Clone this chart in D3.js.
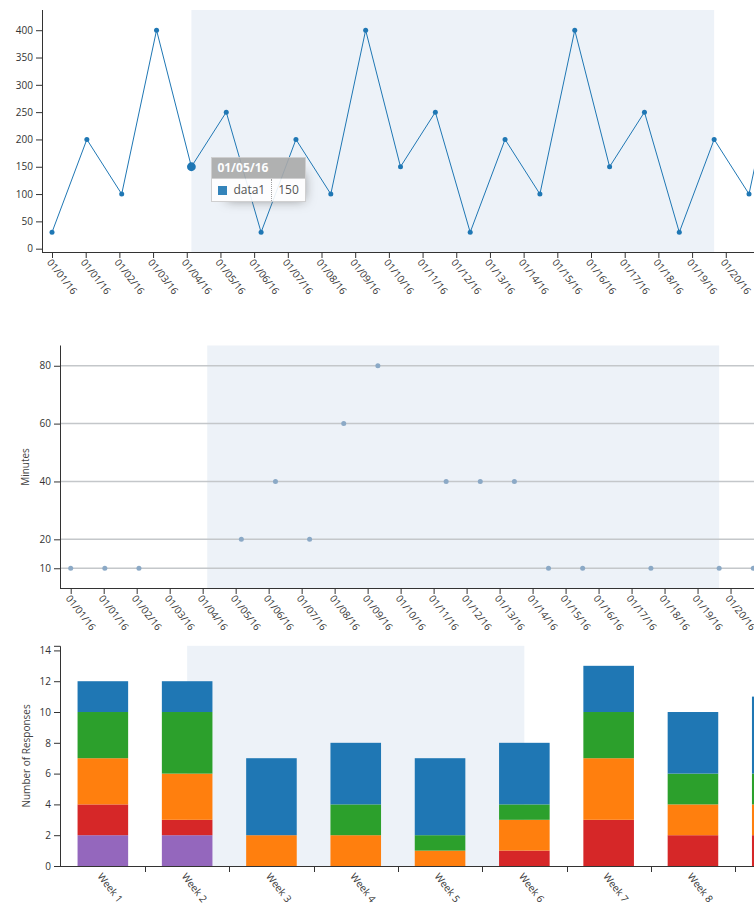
<!DOCTYPE html>
<html><head><meta charset="utf-8">
<script src="https://cdnjs.cloudflare.com/ajax/libs/d3/7.8.5/d3.min.js"></script>
<style>
html,body{margin:0;padding:0;background:#fff;overflow:hidden;}
body{width:754px;height:913px;position:relative;font-family:"Open Sans",sans-serif;}
svg{position:absolute;left:0;top:0;}
.tick text{font-size:10px;fill:#333;font-family:"Open Sans",sans-serif;}
.domain,.tick line{stroke:#333;}
.axis-label{font-size:10px;fill:#444;font-family:"Open Sans",sans-serif;}
#tooltip{position:absolute;}
.c3-tooltip{border-collapse:collapse;border-spacing:0;background:#fff;box-shadow:7px 7px 12px -9px #777;opacity:0.9;font-family:"Open Sans",sans-serif;}
.c3-tooltip tr{border:1px solid #ccc;}
.c3-tooltip th{background:#aaa;font-size:12px;line-height:16px;padding:2px 5px;text-align:left;color:#fff;font-weight:bold;}
.c3-tooltip td{font-size:12px;line-height:16px;padding:3px 6px;background:#fff;border-left:1px dotted #999;color:#444;}
.c3-tooltip td>span{display:inline-block;width:9px;height:9px;margin-right:6px;vertical-align:-1px;}
.c3-tooltip td.value{text-align:right;}
</style></head><body>
<svg id="chart" width="754" height="913"></svg>
<div id="tooltip"></div>
<script>
// ---------------- data ----------------
const lineDates = ["2016-01-01","2016-01-02","2016-01-03","2016-01-04","2016-01-05","2016-01-06","2016-01-07","2016-01-08","2016-01-09","2016-01-10","2016-01-11","2016-01-12","2016-01-13","2016-01-14","2016-01-15","2016-01-16","2016-01-17","2016-01-18","2016-01-19","2016-01-20","2016-01-21","2016-01-22"];
const lineValues = [30,200,100,400,150,250,30,200,100,400,150,250,30,200,100,400,150,250,30,200,100,400];
const lineDomain = ["2016-01-01","2016-01-30"];
const lineTickCount = 31;
const lineYTicks = [0,50,100,150,200,250,300,350,400];
const lineRegion = ["2016-01-05","2016-01-20"];
const lineSeriesName = "data1";
const tooltipIndex = 4;

const scatterDates = ["2016-01-01","2016-01-02","2016-01-03","2016-01-04","2016-01-05","2016-01-06","2016-01-07","2016-01-08","2016-01-09","2016-01-10","2016-01-11","2016-01-12","2016-01-13","2016-01-14","2016-01-15","2016-01-16","2016-01-17","2016-01-18","2016-01-19","2016-01-20","2016-01-21"];
const scatterValues = [10,10,10,null,null,20,40,20,60,80,null,40,40,40,10,10,null,10,null,10,10];
const scatterDomain = ["2016-01-01","2016-01-30"];
const scatterTickCount = 31;
const scatterYTicks = [10,20,40,60,80];
const scatterRegion = ["2016-01-05","2016-01-20"];
const scatterYLabel = "Minutes";

const weeks = ["Week 1","Week 2","Week 3","Week 4","Week 5","Week 6","Week 7","Week 8","Week 9"];
const seriesPurple = [2,2,0,0,0,0,0,0,0];
const seriesRed    = [2,1,0,0,0,1,3,2,2];
const seriesOrange = [3,3,2,2,1,2,4,2,2];
const seriesGreen  = [3,4,0,2,1,1,3,2,2];
const seriesBlue   = [2,2,5,4,5,4,3,4,5];
const barYTicks = [0,2,4,6,8,10,12,14];
const barRegion = ["Week 2","Week 6"];
const barYLabel = "Number of Responses";

// ---------------- helpers ----------------
const parse = d3.timeParse("%Y-%m-%d");
const fmt = d3.timeFormat("%m/%d/%y");
const svg = d3.select("#chart");
const REGION_FILL = "#edf2f8";
const ROT = 52;
function rotateLabels(sel){
  sel.selectAll(".tick text").attr("transform","rotate("+ROT+")").attr("text-anchor","start").attr("x",4.5).attr("y",4);
}
function evenTicks(domain,n){
  const t0=domain[0].getTime(), t1=domain[1].getTime();
  return d3.range(n).map(j=>new Date(t0+j*(t1-t0)/(n-1)));
}
function padDomain(vals){
  const mn=d3.min(vals), mx=d3.max(vals), p=(mx-mn)*0.1;
  return [mn-p,mx+p];
}

// ---------------- chart 1: line ----------------
(function(){
  const L=42, T=10, B=252.5, X0=52, STEP=34.85;
  const dom = lineDomain.map(parse);
  const nDays = (dom[1]-dom[0])/864e5;
  const x = d3.scaleTime().domain(dom).range([X0, X0+nDays*STEP]);
  const y = d3.scaleLinear().domain(padDomain(lineValues)).range([B,T]);
  const g = svg.append("g");
  g.append("rect").attr("x",x(parse(lineRegion[0]))).attr("y",T)
    .attr("width",x(parse(lineRegion[1]))-x(parse(lineRegion[0]))).attr("height",B-T).attr("fill",REGION_FILL);
  const pts = lineDates.map((d,i)=>({d:parse(d),v:lineValues[i]}));
  g.append("path").datum(pts).attr("fill","none").attr("stroke","#1f77b4").attr("stroke-width",1)
    .attr("d",d3.line().x(p=>x(p.d)).y(p=>y(p.v)));
  g.selectAll("circle.pt").data(pts).enter().append("circle").attr("class","pt")
    .attr("cx",p=>x(p.d)).attr("cy",p=>y(p.v)).attr("r",(p,i)=>i===tooltipIndex?4.4:2.5).attr("fill","#1f77b4");
  const ya = g.append("g").attr("transform","translate("+L+",0)")
    .call(d3.axisLeft(y).tickValues(lineYTicks).tickSizeOuter(0));
  ya.select(".domain").attr("d","M0.5,"+T+"V"+(B));
  const xa = g.append("g").attr("transform","translate(0,"+Math.floor(B)+")")
    .call(d3.axisBottom(x).tickValues(evenTicks(dom,lineTickCount)).tickFormat(fmt).tickSizeOuter(0));
  xa.select(".domain").attr("d","M"+L+",0.5H"+(x.range()[1]+20));
  rotateLabels(xa);
  // tooltip
  const tp = pts[tooltipIndex];
  const tip = d3.select("#tooltip").style("left",(x(tp.d)+20)+"px").style("top",(y(tp.v)-10)+"px");
  const tb = tip.append("table").attr("class","c3-tooltip");
  tb.append("tr").append("th").attr("colspan",2).text(fmt(tp.d));
  const tr = tb.append("tr");
  const tdn = tr.append("td").attr("class","name");
  tdn.append("span").style("background-color","#1f77b4");
  tdn.append("tspan").text(lineSeriesName);
  tdn.node().appendChild(document.createTextNode(""));
  tr.append("td").attr("class","value").text(tp.v);
})();

// ---------------- chart 2: scatter ----------------
(function(){
  const L=60.7, T=345.5, B=588.5, X0=70.7, STEP=34.13;
  const dom = scatterDomain.map(parse);
  const nDays = (dom[1]-dom[0])/864e5;
  const x = d3.scaleTime().domain(dom).range([X0, X0+nDays*STEP]);
  const y = d3.scaleLinear().domain(padDomain(scatterValues.filter(v=>v!=null))).range([B,T]);
  const g = svg.append("g");
  g.append("rect").attr("x",x(parse(scatterRegion[0]))).attr("y",T)
    .attr("width",x(parse(scatterRegion[1]))-x(parse(scatterRegion[0]))).attr("height",B-T).attr("fill",REGION_FILL);
  g.selectAll("line.grid").data(scatterYTicks).enter().append("line").attr("class","grid")
    .attr("x1",L).attr("x2",x.range()[1]+20).attr("y1",v=>y(v)).attr("y2",v=>y(v))
    .attr("stroke","#c4c7ca").attr("stroke-width",1.5);
  const pts = scatterDates.map((d,i)=>({d:parse(d),v:scatterValues[i]})).filter(p=>p.v!=null);
  g.selectAll("circle.pt").data(pts).enter().append("circle").attr("class","pt")
    .attr("cx",p=>x(p.d)).attr("cy",p=>y(p.v)).attr("r",2.5).attr("fill","#8ba9c6");
  const ya = g.append("g").attr("transform","translate("+Math.floor(L)+",0)")
    .call(d3.axisLeft(y).tickValues(scatterYTicks).tickSizeOuter(0));
  ya.select(".domain").attr("d","M0.5,"+T+"V"+B);
  const xa = g.append("g").attr("transform","translate(0,"+Math.floor(B)+")")
    .call(d3.axisBottom(x).tickValues(evenTicks(dom,scatterTickCount)).tickFormat(fmt).tickSizeOuter(0));
  xa.select(".domain").attr("d","M"+Math.floor(L)+",0.5H"+(x.range()[1]+20));
  rotateLabels(xa);
  g.append("text").attr("class","axis-label").attr("transform","translate(29,"+((T+B)/2)+") rotate(-90)")
    .attr("text-anchor","middle").text(scatterYLabel);
})();

// ---------------- chart 3: stacked bars ----------------
(function(){
  const L=60.7, T0=645.8, B=866, BW=84.3;
  const order = [
    {name:"purple",vals:seriesPurple,color:"#9467bd"},
    {name:"red",vals:seriesRed,color:"#d62728"},
    {name:"orange",vals:seriesOrange,color:"#ff7f0e"},
    {name:"green",vals:seriesGreen,color:"#2ca02c"},
    {name:"blue",vals:seriesBlue,color:"#1f77b4"}];
  const rows = weeks.map((w,i)=>{const r={week:w}; order.forEach(s=>r[s.name]=s.vals[i]); return r;});
  const stack = d3.stack().keys(order.map(s=>s.name))(rows);
  const maxT = d3.max(rows,r=>order.reduce((a,s)=>a+r[s.name],0));
  const x = d3.scaleBand().domain(weeks).range([L, L+weeks.length*BW]).paddingInner(0).paddingOuter(0);
  const y = d3.scaleLinear().domain([0,maxT*1.1]).range([B,T0]);
  const g = svg.append("g");
  const rx0 = x(barRegion[0])+x.bandwidth()/2, rx1 = x(barRegion[1])+x.bandwidth()/2;
  g.append("rect").attr("x",rx0).attr("y",T0).attr("width",rx1-rx0).attr("height",B-T0).attr("fill",REGION_FILL);
  stack.forEach((layer,k)=>{
    g.selectAll("rect.s"+k).data(layer.filter(d=>d[1]>d[0])).enter().append("rect").attr("class","s"+k)
      .attr("x",d=>x(d.data.week)+x.bandwidth()*0.2).attr("width",x.bandwidth()*0.6)
      .attr("y",d=>y(d[1])).attr("height",d=>y(d[0])-y(d[1])).attr("fill",order[k].color);
  });
  const ya = g.append("g").attr("transform","translate("+Math.floor(L)+",0)")
    .call(d3.axisLeft(y).tickValues(barYTicks));
  const xa = g.append("g").attr("transform","translate(0,"+B+")")
    .call(d3.axisBottom(x).tickSize(0).tickSizeOuter(0));
  xa.select(".domain").attr("d","M"+Math.floor(L)+",0.5H"+(x.range()[1]+20));
  rotateLabels(xa);
  xa.selectAll("line.bt").data(weeks.slice(1)).enter().append("line").attr("class","bt")
    .attr("x1",w=>Math.round(x(w))+0.5).attr("x2",w=>Math.round(x(w))+0.5).attr("y1",0).attr("y2",6).attr("stroke","#333");
  g.append("text").attr("class","axis-label").attr("transform","translate(30,"+((T0+B)/2)+") rotate(-90)")
    .attr("text-anchor","middle").text(barYLabel);
})();
</script>
</body></html>
